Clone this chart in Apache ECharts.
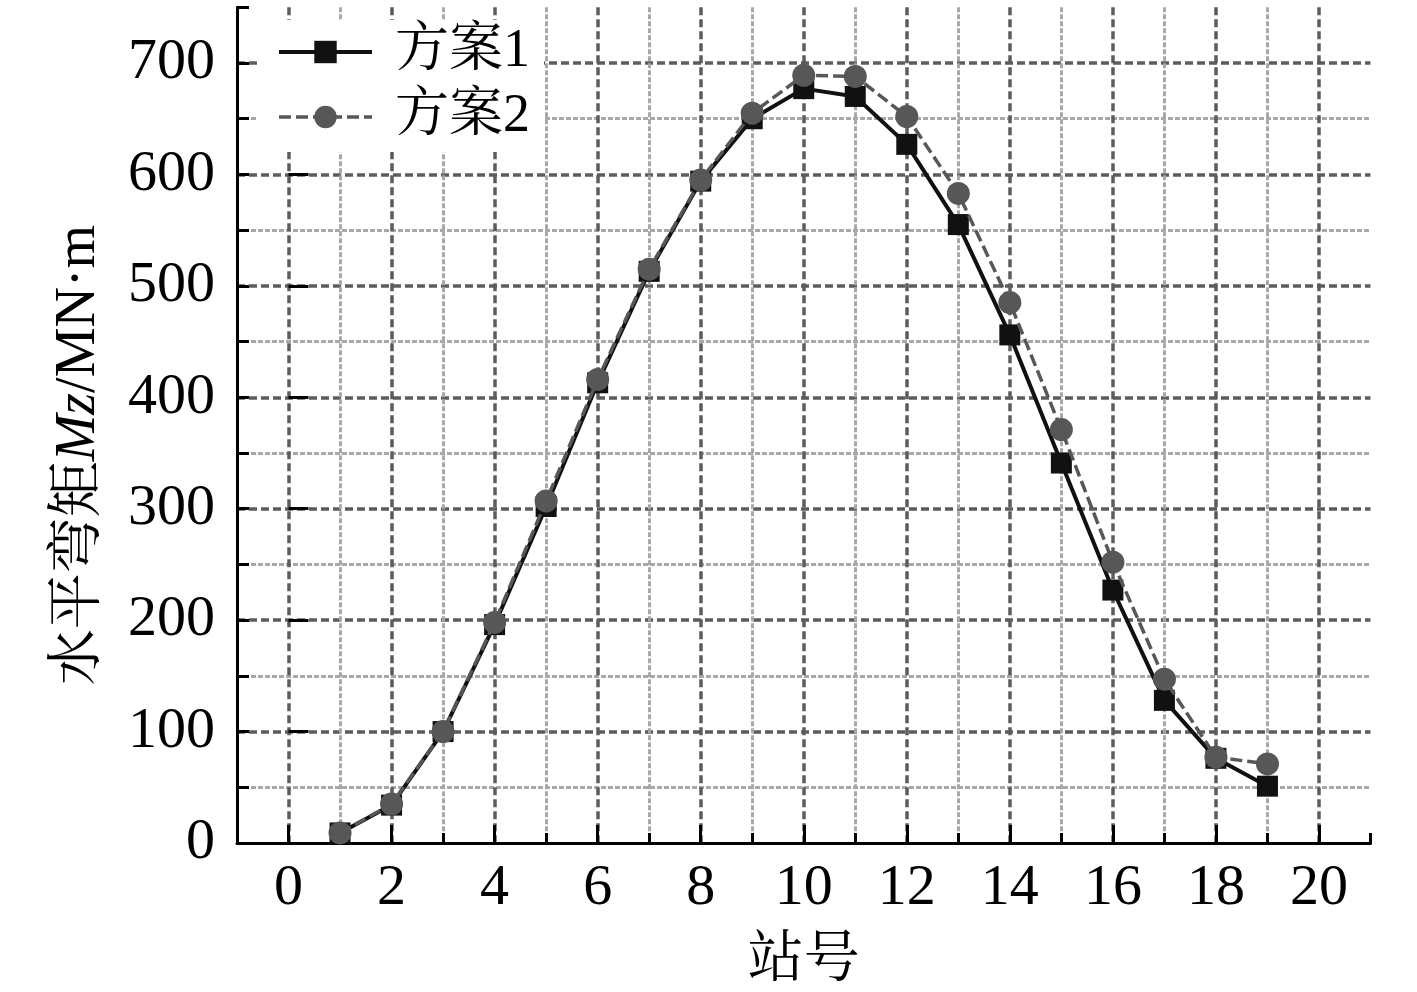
<!DOCTYPE html>
<html>
<head>
<meta charset="utf-8">
<script src="https://cdn.jsdelivr.net/npm/echarts@6/dist/echarts.min.js"></script>
<style>
  html, body { margin: 0; padding: 0; background: #fff; }
  #main { width: 1417px; height: 992px; }
</style>
</head>
<body>
<div id="main"></div>
<script>
// 站号
const stations = [1, 2, 3, 4, 5, 6, 7, 8, 9, 10, 11, 12, 13, 14, 15, 16, 17, 18, 19];
// 方案1 水平弯矩 (MN·m)
const plan1 = [9, 34, 100, 196, 302, 413, 513, 594, 650, 677, 670, 627, 555, 456, 341, 227, 128, 76, 51];
// 方案2 水平弯矩 (MN·m)
const plan2 = [9, 35, 100, 198, 307, 416, 515, 595, 655, 689, 688, 652, 583, 485, 371, 252, 147, 77, 71];
// 刻度标签
const xTicks = [0, 2, 4, 6, 8, 10, 12, 14, 16, 18, 20];
const yTicks = [0, 100, 200, 300, 400, 500, 600, 700];

const FONT = "'Times New Roman', 'Liberation Serif', 'Noto Serif CJK SC', 'Noto Sans CJK SC', serif";
const MAJOR = '#5c5c5c';
const MINOR = '#a8a8a8';

const chart = echarts.init(document.getElementById('main'));

const option = {
  animation: false,
  backgroundColor: '#fff',
  textStyle: { fontFamily: FONT, color: '#000' },
  grid: { left: 237, right: 46.5, top: 7.3, bottom: 149, containLabel: false, outerBoundsMode: 'none' },
  legend: {
    data: [
      { name: '方案1', lineStyle: { width: 4 } },
      { name: '方案2', lineStyle: { width: 3.5 } }
    ],
    orient: 'vertical',
    left: 258,
    top: 20,
    padding: [5, 14, 8, 19],
    itemWidth: 93,
    itemHeight: 28,
    itemGap: 11,
    backgroundColor: '#fff',
    textStyle: { fontFamily: FONT, fontSize: 54, lineHeight: 54, color: '#000', padding: [0, 0, 0, 18] }
  },
  xAxis: [
    {
      // 数据轴：奇数主刻度(短) + 偶数次刻度(长)
      type: 'value', min: -1, max: 21, interval: 2,
      axisLine: { show: true, onZero: false, lineStyle: { color: '#000', width: 3 } },
      axisTick: { show: true, inside: true, length: 10, lineStyle: { color: '#000', width: 3 } },
      minorTick: { show: true, splitNumber: 2, length: 18, lineStyle: { color: '#000', width: 3 } },
      axisLabel: { show: false },
      splitLine: { show: true, showMinLine: false, showMaxLine: false, lineStyle: { color: MINOR, width: 3, type: [5, 2] } },
      minorSplitLine: { show: true, lineStyle: { color: MAJOR, width: 3.5, type: [8, 4] } }
    },
    {
      // 标签轴
      type: 'value', min: -1, max: 21, interval: 1, position: 'bottom',
      axisLine: { show: false }, axisTick: { show: false }, splitLine: { show: false },
      axisLabel: {
        margin: 17, fontSize: 58, fontFamily: FONT, color: '#000',
        formatter: v => xTicks.includes(v) ? String(v) : ''
      },
      name: '站号', nameLocation: 'middle', nameGap: 90,
      nameTextStyle: { fontSize: 56, fontFamily: FONT, color: '#000' }
    }
  ],
  yAxis: [
    {
      type: 'value', min: 0, max: 750, interval: 50,
      axisLine: { show: true, onZero: false, lineStyle: { color: '#000', width: 3 } },
      axisTick: { show: true, inside: true, length: 12, lineStyle: { color: '#000', width: 3 } },
      axisLabel: { show: false },
      splitLine: { show: true, showMinLine: false, showMaxLine: false, lineStyle: { color: [MINOR, 'transparent'], width: 3, type: [5, 2] } }
    },
    {
      type: 'value', min: 0, max: 750, interval: 100, position: 'left',
      axisLine: { show: false },
      axisTick: { show: true, inside: true, length: 20, customValues: yTicks, lineStyle: { color: '#000', width: 3 } },
      axisLabel: { margin: 22, fontSize: 58, fontFamily: FONT, color: '#000', customValues: yTicks },
      splitLine: { show: true, showMinLine: false, lineStyle: { color: MAJOR, width: 3.5, type: [8, 4] } },
      name: '水平弯矩{i|Mz}/MN·m', nameLocation: 'middle', nameGap: 130,
      nameTextStyle: {
        fontSize: 56, fontFamily: FONT, color: '#000', padding: [0, 60, 0, 0],
        rich: { i: { fontSize: 56, fontFamily: FONT, fontStyle: 'italic', color: '#000' } }
      }
    }
  ],
  series: [
    {
      name: '方案1', type: 'line', xAxisIndex: 0, yAxisIndex: 0,
      data: stations.map((s, i) => [s, plan1[i]]),
      symbol: 'rect', symbolSize: 21,
      itemStyle: { color: '#111' },
      lineStyle: { color: '#111', width: 4 },
      z: 3
    },
    {
      name: '方案2', type: 'line', xAxisIndex: 0, yAxisIndex: 0,
      data: stations.map((s, i) => [s, plan2[i]]),
      symbol: 'circle', symbolSize: 23,
      itemStyle: { color: '#575757' },
      lineStyle: { color: '#575757', width: 3.5, type: [12, 5] },
      z: 4
    }
  ]
};

chart.setOption(option);
</script>
</body>
</html>
